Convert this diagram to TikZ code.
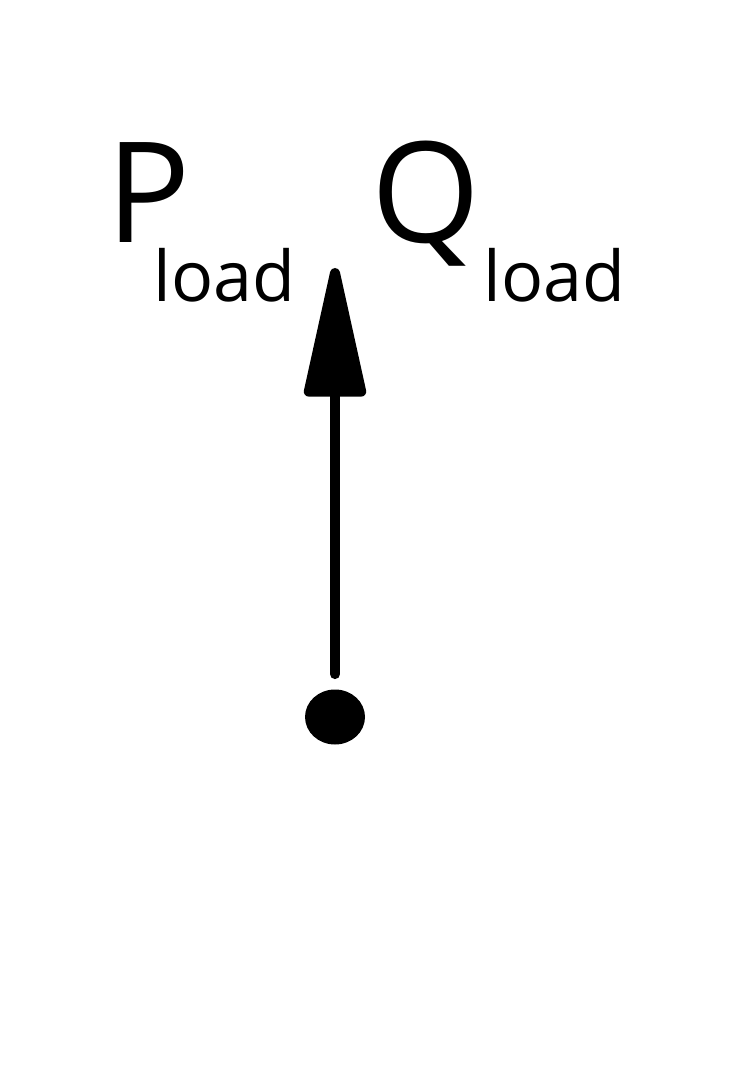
\documentclass[tikz,border=0pt]{standalone}
\usepackage{fontspec}
\setmainfont{Open Sans}
\usetikzlibrary{arrows.meta,shapes.geometric}
\begin{document}
\begin{tikzpicture}[x=0.5pt,y=-0.5pt,
  bigsym/.style={inner sep=0pt,anchor=base west,text depth=0pt,font=\fontsize{70}{80}\selectfont},
  subtxt/.style={inner sep=0pt,anchor=base west,text height=0.76em,font=\fontsize{35}{40}\selectfont},
  dotnode/.style={ellipse,fill=black,draw=none,minimum width=30pt,minimum height=27.5pt,inner sep=0pt},
  flow/.style={line width=5pt,line cap=round,-{Triangle[length=74pt,width=31pt,round]},shorten <=7.5pt}]
\useasboundingbox (0,0) rectangle (732,1090);
\node[bigsym] (P) at (106,243) {P};
\node[subtxt] (Psub) at (153,302) {load};
\node[bigsym] (Q) at (371,243) {Q};
\node[subtxt] (Qsub) at (483,302) {load};
\node[dotnode] (dot) at (335,717) {};
\coordinate (tip) at (335,268);
\draw[flow] (dot.north) -- (tip);
\end{tikzpicture}
\end{document}
